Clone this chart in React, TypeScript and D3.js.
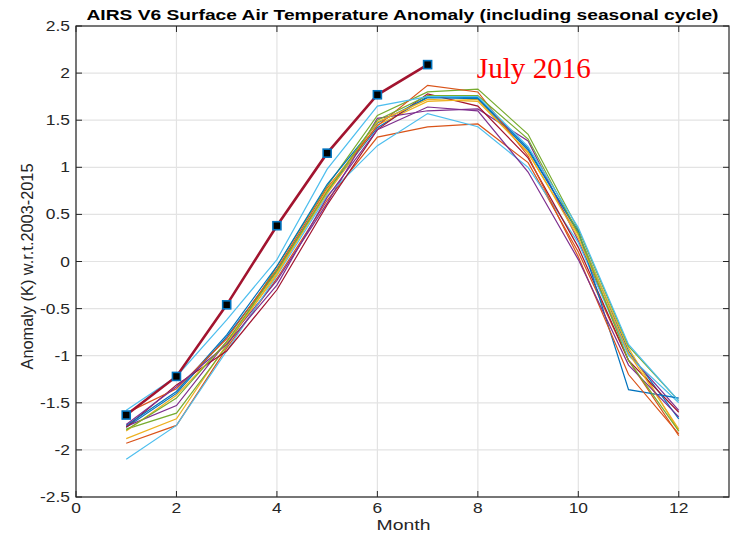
import React from "react";
import * as d3 from "d3";

const months = [1, 2, 3, 4, 5, 6, 7, 8, 9, 10, 11, 12];
const xTicks = [0, 2, 4, 6, 8, 10, 12];
const yTicks = [-2.5, -2, -1.5, -1, -0.5, 0, 0.5, 1, 1.5, 2, 2.5];
const lineColors = ["#0072BD", "#D95319", "#EDB120", "#7E2F8E", "#77AC30", "#4DBEEE", "#A2142F"];

const y2003 = [-1.76, -1.40, -0.80, -0.10, 0.75, 1.42, 1.75, 1.74, 1.20, 0.30, -0.95, -1.67];
const y2004 = [-1.93, -1.74, -0.92, -0.18, 0.65, 1.32, 1.43, 1.46, 1.05, 0.10, -1.05, -1.85];
const y2005 = [-1.88, -1.67, -0.88, -0.12, 0.72, 1.45, 1.70, 1.72, 1.15, 0.28, -0.92, -1.80];
const y2006 = [-1.75, -1.53, -0.85, -0.20, 0.62, 1.52, 1.60, 1.62, 1.28, 0.22, -0.98, -1.58];
const y2007 = [-1.78, -1.61, -0.90, -0.05, 0.80, 1.55, 1.80, 1.83, 1.35, 0.34, -0.90, -1.48];
const y2008 = [-2.10, -1.74, -0.95, -0.15, 0.70, 1.23, 1.57, 1.43, 1.00, 0.20, -1.00, -1.50];
const y2009 = [-1.76, -1.31, -0.95, -0.30, 0.60, 1.40, 1.78, 1.65, 1.10, 0.15, -1.05, -1.60];
const y2010 = [-1.74, -1.38, -0.78, -0.05, 0.82, 1.47, 1.74, 1.73, 1.18, 0.32, -1.36, -1.45];
const y2011 = [-1.61, -1.35, -0.82, -0.08, 0.78, 1.44, 1.87, 1.80, 1.12, 0.05, -1.20, -1.83];
const y2012 = [-1.80, -1.42, -0.86, -0.14, 0.76, 1.48, 1.72, 1.70, 1.16, 0.25, -0.97, -1.78];
const y2013 = [-1.73, -1.33, -0.88, -0.25, 0.68, 1.40, 1.64, 1.60, 0.95, 0.02, -1.10, -1.65];
const y2014 = [-1.79, -1.45, -0.85, -0.10, 0.74, 1.50, 1.76, 1.76, 1.30, 0.30, -1.05, -1.80];
const y2015 = [-1.58, -1.22, -0.62, 0.02, 0.98, 1.65, 1.75, 1.75, 1.22, 0.36, -0.88, -1.48];
const y2016 = [-1.63, -1.22, -0.46, 0.38, 1.15, 1.77, 2.09];

const pastYears = [y2003, y2004, y2005, y2006, y2007, y2008, y2009, y2010, y2011, y2012, y2013, y2014, y2015];

const W = 731, H = 534;
const L = 76, R = 729, T = 26, B = 497;
const SX = 1.2;

export default function App() {
  const x = d3.scaleLinear().domain([0, 13]).range([L, R]);
  const y = d3.scaleLinear().domain([-2.5, 2.5]).range([B, T]);
  const line = d3.line<number>().x((_, i) => x(months[i])).y((d) => y(d));
  const axisCol = "#262626";
  const font = "'Liberation Sans', Arial, sans-serif";
  return (
    <svg width={W} height={H} style={{ position: "absolute", left: 0, top: 0, background: "#fff" }}>
      <rect x={0} y={0} width={W} height={H} fill="#fff" />
      {xTicks.map((t) => (
        <line key={"gx" + t} x1={x(t)} x2={x(t)} y1={T} y2={B} stroke="#e3e3e3" strokeWidth={1.2} />
      ))}
      {yTicks.map((t) => (
        <line key={"gy" + t} x1={L} x2={R} y1={y(t)} y2={y(t)} stroke="#e3e3e3" strokeWidth={1.2} />
      ))}
      {pastYears.map((vals, i) => (
        <path key={i} d={line(vals) || ""} fill="none" stroke={lineColors[i % 7]} strokeWidth={1.2} />
      ))}
      <path d={line(y2016) || ""} fill="none" stroke="#A2142F" strokeWidth={2.6} />
      {y2016.map((v, i) => (
        <rect key={"m" + i} x={x(months[i]) - 4} y={y(v) - 4} width={8} height={8} fill="#000" stroke="#0072BD" strokeWidth={1.6} />
      ))}
      <rect x={L} y={T} width={R - L} height={B - T} fill="none" stroke={axisCol} strokeWidth={1.2} />
      {xTicks.map((t) => (
        <g key={"tx" + t}>
          <line x1={x(t)} x2={x(t)} y1={B} y2={B - 6} stroke={axisCol} />
          <line x1={x(t)} x2={x(t)} y1={T} y2={T + 6} stroke={axisCol} />
          <g transform={`translate(${x(t)},${B + 16}) scale(${SX},1)`}>
            <text x={0} y={0} textAnchor="middle" fontFamily={font} fontSize={14.5} fill={axisCol}>{t}</text>
          </g>
        </g>
      ))}
      {yTicks.map((t) => (
        <g key={"ty" + t}>
          <line x1={L} x2={L + 6} y1={y(t)} y2={y(t)} stroke={axisCol} />
          <line x1={R} x2={R - 6} y1={y(t)} y2={y(t)} stroke={axisCol} />
          <g transform={`translate(${L - 6},${y(t) + 5}) scale(${SX},1)`}>
            <text x={0} y={0} textAnchor="end" fontFamily={font} fontSize={14.5} fill={axisCol}>{t}</text>
          </g>
        </g>
      ))}
      <g transform={`translate(${(L + R) / 2 + 1},530) scale(1.25,1)`}>
        <text x={0} y={0} textAnchor="middle" fontFamily={font} fontSize={15.5} fill={axisCol}>Month</text>
      </g>
      <text transform={`translate(33,${(T + B) / 2 + 5}) rotate(-90)`} textAnchor="middle" fontFamily="'Liberation Sans Narrow', 'Liberation Sans', sans-serif" fontSize={16} fill={axisCol} textLength={206} lengthAdjust="spacingAndGlyphs">Anomaly (K) w.r.t.2003-2015</text>
      <text x={(L + R) / 2 + 0} y={20} textAnchor="middle" fontFamily={font} fontWeight="bold" fontSize={15} fill="#000" textLength={632} lengthAdjust="spacingAndGlyphs">AIRS V6 Surface Air Temperature Anomaly (including seasonal cycle)</text>
      <text x={x(8) - 1} y={78} fontFamily="'Liberation Serif', 'Times New Roman', serif" fontSize={30} fill="#ff0000" textLength={114} lengthAdjust="spacingAndGlyphs">July 2016</text>
    </svg>
  );
}
